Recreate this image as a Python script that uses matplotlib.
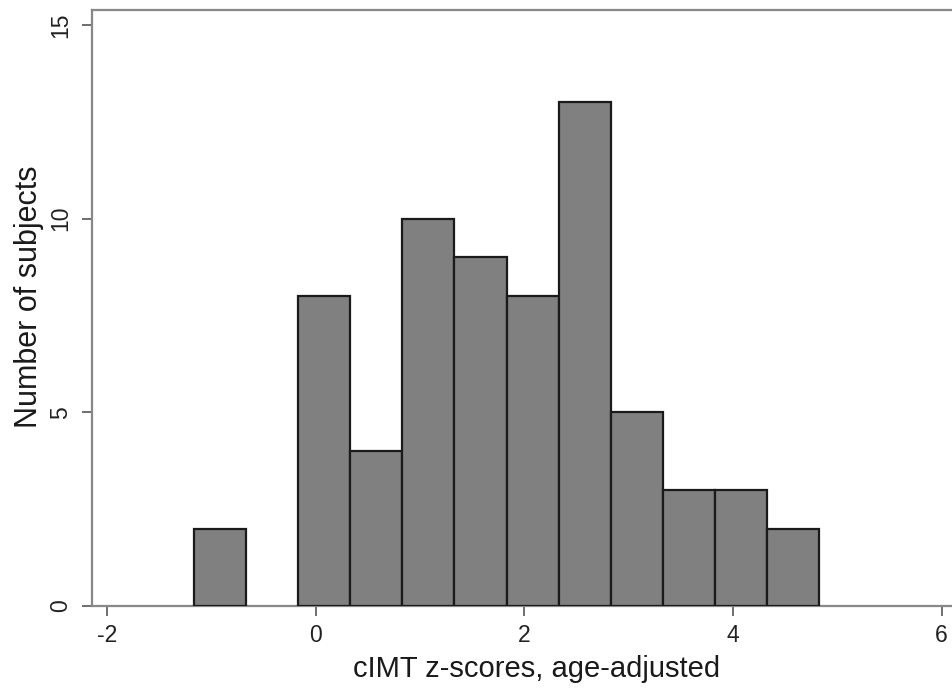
import numpy as np
import matplotlib
matplotlib.use("Agg")
import matplotlib.pyplot as plt

plt.rcParams['font.family'] = ['Liberation Sans', 'DejaVu Sans']

# histogram bins (left edges, width 0.5) and counts
bin_edges = [-1.17, -0.67, -0.17, 0.33, 0.83, 1.33, 1.83, 2.33, 2.83, 3.33, 3.83, 4.33, 4.83]
counts = [2, 0, 8, 4, 10, 9, 8, 13, 5, 3, 3, 2]

x_ticks = [-2, 0, 2, 4, 6]
y_ticks = [0, 5, 10, 15]

fig = plt.figure(figsize=(9.53, 7.0), dpi=100)
ax = fig.add_axes([0.0962, 0.1343, 0.9038, 0.8521])

left = np.array(bin_edges[:-1])
width = np.diff(bin_edges)
heights = np.array(counts)
keep = heights > 0
ax.bar(left[keep], heights[keep], width=width[keep], align='edge',
       color='#808080', edgecolor='#1a1a1a', linewidth=1.6, zorder=3)

ax.set_xlim(-2.148, 6.11)
ax.set_ylim(0, 15.4)
ax.set_xticks(x_ticks)
ax.set_yticks(y_ticks)
ax.set_xticklabels([str(t) for t in x_ticks])
ax.set_yticklabels([str(t) for t in y_ticks], rotation=90, va='center')

for side in ['left', 'bottom', 'top']:
    ax.spines[side].set_color('#888888')
    ax.spines[side].set_linewidth(1.6)
ax.spines['right'].set_visible(False)

ax.tick_params(axis='both', direction='out', color='#555555', width=1.2,
               length=7, labelsize=16.5, labelcolor='#222222')
ax.tick_params(axis='x', pad=6)
ax.tick_params(axis='y', pad=7)

ax.set_xlabel('cIMT z-scores, age-adjusted', fontsize=21, color='#1a1a1a')
ax.xaxis.set_label_coords(0.516, -0.083)
ax.xaxis.label.set_va('top')
ax.set_ylabel('Number of subjects', fontsize=22, color='#1a1a1a')
ax.yaxis.set_label_coords(-0.055, 0.518)

fig.savefig('out.png', dpi=100)
